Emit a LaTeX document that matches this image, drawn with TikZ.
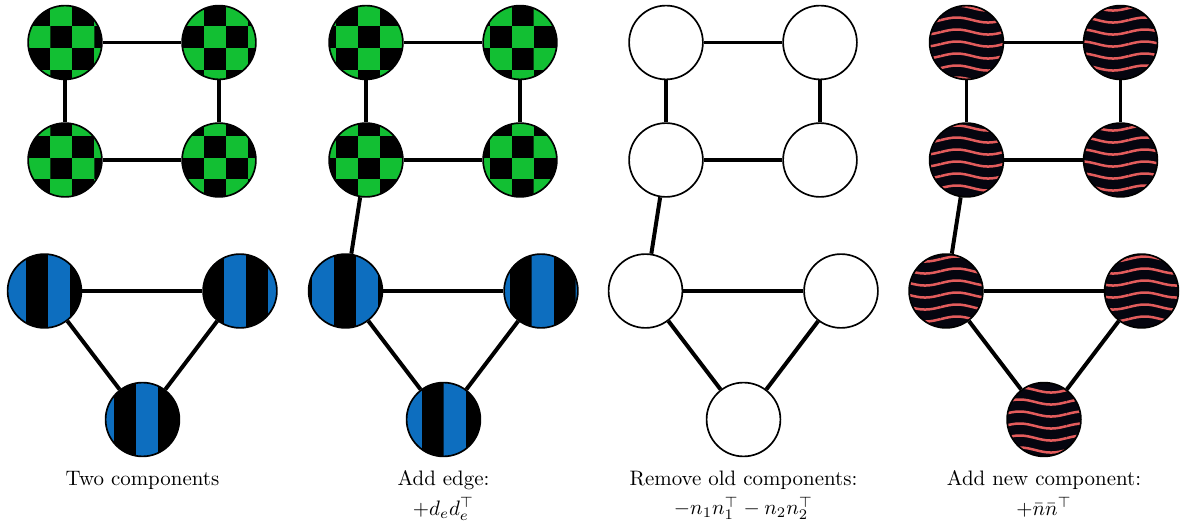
\documentclass[tikz,border=0pt]{standalone}
\usepackage{amsmath,amssymb}
\usepackage{tikz}
\usetikzlibrary{positioning,patterns.meta}
\definecolor{checkgreen}{rgb}{0.07,0.75,0.2}
\definecolor{stripeblue}{rgb}{0.05,0.43,0.75}
\definecolor{wavered}{rgb}{0.89,0.36,0.36}
\definecolor{nightblack}{rgb}{0.02,0.02,0.06}

\tikzdeclarepattern{name=checks, type=uncolored,
  bounding box={(3.1pt,8.6pt) and (24.1pt,29.6pt)}, tile size={(21pt,21pt)},
  code={\fill (13.6pt,8.6pt) rectangle (24.1pt,19.1pt);
        \fill (3.1pt,19.1pt) rectangle (13.6pt,29.6pt);}}
\tikzdeclarepattern{name=bars, type=uncolored,
  bounding box={(2.1pt,0pt) and (23.1pt,10pt)}, tile size={(21pt,10pt)},
  code={\fill (12.6pt,0pt) rectangle (23.1pt,10pt);}}
\tikzdeclarepattern{name=waves, type=uncolored,
  bounding box={(0pt,0pt) and (30pt,5.7pt)}, tile size={(30pt,5.7pt)},
  code={\draw[line width=1.2pt] (0pt,2.85pt) sin (7.5pt,4.05pt) cos (15pt,2.85pt)
        sin (22.5pt,1.65pt) cos (30pt,2.85pt);}}

\begin{document}
\begin{tikzpicture}[x=0.0168cm, y=-0.0168cm,
  vtx/.style={circle, draw, thick, minimum size=1.24cm, inner sep=0pt},
  greenvtx/.style={vtx, preaction={fill=checkgreen}, pattern=checks, pattern color=black},
  bluevtx/.style={vtx, preaction={fill=stripeblue}, pattern=bars, pattern color=black},
  redvtx/.style={vtx, preaction={fill=nightblack}, pattern=waves, pattern color=wavered},
  whitevtx/.style={vtx, fill=white},
  link/.style={line width=1.9pt},
  caption/.style={align=center}]
\useasboundingbox (0,0) rectangle (1180,527);

% two components
\node[greenvtx] (A1) at (65,42.5) {};
\node[greenvtx] (A2) at (219,42.5) {};
\node[greenvtx] (A3) at (65,160) {};
\node[greenvtx] (A4) at (219,160) {};
\node[bluevtx] (A5) at (44.5,291) {};
\node[bluevtx] (A6) at (240,291) {};
\node[bluevtx] (A7) at (142.5,419.5) {};
\draw[link] (A1) -- (A2);
\draw[link] (A1) -- (A3);
\draw[link] (A2) -- (A4);
\draw[link] (A3) -- (A4);
\draw[link] (A5) -- (A6);
\draw[link] (A5) -- (A7);
\draw[link] (A6) -- (A7);
\node[caption, below=3pt of A7] (capA) {Two components};

% add edge
\begin{scope}[xshift=301*0.0168cm]
\node[greenvtx] (B1) at (65,42.5) {};
\node[greenvtx] (B2) at (219,42.5) {};
\node[greenvtx] (B3) at (65,160) {};
\node[greenvtx] (B4) at (219,160) {};
\node[bluevtx] (B5) at (44.5,291) {};
\node[bluevtx] (B6) at (240,291) {};
\node[bluevtx] (B7) at (142.5,419.5) {};
\end{scope}
\draw[link] (B1) -- (B2);
\draw[link] (B1) -- (B3);
\draw[link] (B2) -- (B4);
\draw[link] (B3) -- (B4);
\draw[link] (B3) -- (B5);
\draw[link] (B5) -- (B6);
\draw[link] (B5) -- (B7);
\draw[link] (B6) -- (B7);
\node[caption, below=3pt of B7] (capB) {Add edge:\\[2pt] $+d_e d_e^\top$};

% remove old components
\begin{scope}[xshift=601*0.0168cm]
\node[whitevtx] (C1) at (65,42.5) {};
\node[whitevtx] (C2) at (219,42.5) {};
\node[whitevtx] (C3) at (65,160) {};
\node[whitevtx] (C4) at (219,160) {};
\node[whitevtx] (C5) at (44.5,291) {};
\node[whitevtx] (C6) at (240,291) {};
\node[whitevtx] (C7) at (142.5,419.5) {};
\end{scope}
\draw[link] (C1) -- (C2);
\draw[link] (C1) -- (C3);
\draw[link] (C2) -- (C4);
\draw[link] (C3) -- (C4);
\draw[link] (C3) -- (C5);
\draw[link] (C5) -- (C6);
\draw[link] (C5) -- (C7);
\draw[link] (C6) -- (C7);
\node[caption, below=3pt of C7] (capC) {Remove old components:\\[2pt] $-n_1 n_1^\top - n_2 n_2^\top$};

% add new component
\begin{scope}[xshift=901.5*0.0168cm]
\node[redvtx] (D1) at (65,42.5) {};
\node[redvtx] (D2) at (219,42.5) {};
\node[redvtx] (D3) at (65,160) {};
\node[redvtx] (D4) at (219,160) {};
\node[redvtx] (D5) at (44.5,291) {};
\node[redvtx] (D6) at (240,291) {};
\node[redvtx] (D7) at (142.5,419.5) {};
\end{scope}
\draw[link] (D1) -- (D2);
\draw[link] (D1) -- (D3);
\draw[link] (D2) -- (D4);
\draw[link] (D3) -- (D4);
\draw[link] (D3) -- (D5);
\draw[link] (D5) -- (D6);
\draw[link] (D5) -- (D7);
\draw[link] (D6) -- (D7);
\node[caption, below=3pt of D7] (capD) {Add new component:\\[2pt] $+\bar{n}\bar{n}^\top$};
\end{tikzpicture}
\end{document}
